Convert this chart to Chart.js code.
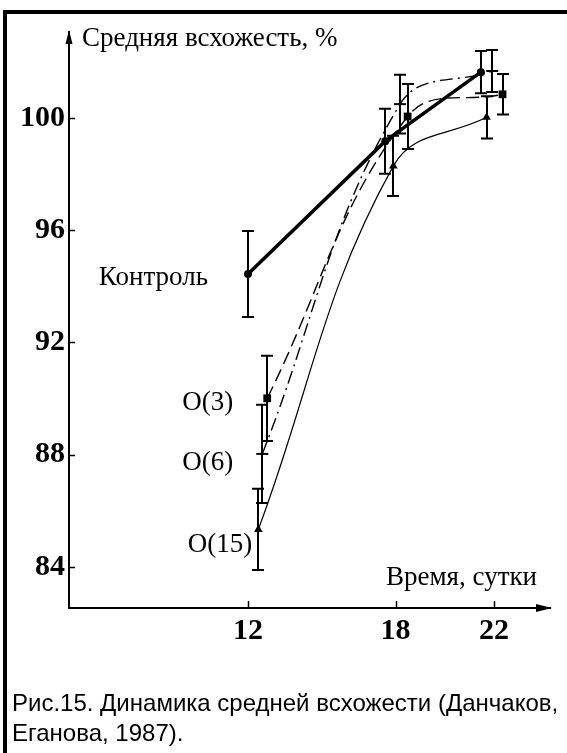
<!DOCTYPE html>
<html>
<head>
<meta charset="utf-8">
<script src="https://cdn.jsdelivr.net/npm/chart.js@4"></script>
<style>
  html, body { margin: 0; padding: 0; background: #fff; }
  #wrap { position: relative; width: 567px; height: 753px; overflow: hidden; background: #fff; }
  #frame { position: absolute; left: 3px; top: 10px; width: 600px; height: 800px;
           border-left: 4px solid #000; border-top: 4px solid #000; box-sizing: border-box; }
  canvas { position: absolute; left: 0; top: 0; }
  #caption { position: absolute; left: 12px; top: 688px; width: 620px;
             font-family: "Liberation Sans", Arial, sans-serif; font-size: 24px; line-height: 30px;
             color: #000; white-space: nowrap; }
</style>
</head>
<body>
<div id="wrap">
  <div id="frame"></div>
  <canvas id="c" width="567" height="753"></canvas>
  <div id="caption">Рис.15. Динамика средней всхожести (Данчаков,<br>Еганова, 1987).</div>
</div>
<script>
// ---- data ----
const xTicks = [12, 18, 22];
const yTicks = [84, 88, 92, 96, 100];
const yTitle = "Средняя всхожесть, %";
const xTitle = "Время, сутки";
const seriesNames = ["Контроль", "O(3)", "O(6)", "O(15)"];

// plotted day positions (points are slightly shifted around 12, 18, 22 in the figure)
const daysControl = [12.0, 17.58, 21.47];
const daysO3 = [12.78, 18.49, 22.35];
const daysO6 = [12.58, 18.18, 21.93];
const daysO15 = [12.42, 17.91, 21.70];

// mean germination, %
const valControl = [94.44, 99.17, 101.63];
const valO3 = [90.01, 100.05, 100.84];
const valO6 = [88.03, 100.49, 101.67];
const valO15 = [85.34, 98.29, 100.02];

// error bar half-widths, %
const errControl = [1.53, 1.16, 0.75];
const errO3 = [1.52, 1.16, 0.72];
const errO6 = [1.75, 1.05, 0.75];
const errO15 = [1.45, 1.07, 0.75];

function pts(xs, ys) { return xs.map((x, i) => ({ x: x, y: ys[i] })); }

const errs = [errControl, errO3, errO6, errO15];

const errorBarPlugin = {
  id: 'errbars',
  afterDatasetsDraw(chart) {
    const ctx = chart.ctx, xs = chart.scales.x, ys = chart.scales.y;
    ctx.save();
    ctx.strokeStyle = '#000';
    ctx.lineWidth = 2;
    chart.data.datasets.forEach((ds, di) => {
      ds.data.forEach((p, i) => {
        const e = errs[di][i];
        const px = Math.round(xs.getPixelForValue(p.x));
        const y1 = ys.getPixelForValue(p.y + e);
        const y2 = ys.getPixelForValue(p.y - e);
        ctx.beginPath();
        ctx.moveTo(px, y1); ctx.lineTo(px, y2);
        ctx.moveTo(px - 6, y1); ctx.lineTo(px + 6, y1);
        ctx.moveTo(px - 6, y2); ctx.lineTo(px + 6, y2);
        ctx.stroke();
      });
    });
    ctx.restore();
  }
};

const decorPlugin = {
  id: 'decor',
  afterDraw(chart) {
    const ctx = chart.ctx, xs = chart.scales.x, ys = chart.scales.y, a = chart.chartArea;
    ctx.save();
    ctx.fillStyle = '#000';
    ctx.strokeStyle = '#000';
    ctx.lineWidth = 1.5;
    // inward tick marks
    yTicks.forEach(v => {
      const py = Math.round(ys.getPixelForValue(v)) + 0.5;
      ctx.beginPath(); ctx.moveTo(a.left, py); ctx.lineTo(a.left + 6, py); ctx.stroke();
    });
    xTicks.forEach(v => {
      const px = Math.round(xs.getPixelForValue(v)) + 0.5;
      ctx.beginPath(); ctx.moveTo(px, a.bottom); ctx.lineTo(px, a.bottom - 7); ctx.stroke();
    });
    // arrows
    ctx.beginPath();
    ctx.moveTo(a.left, a.top - 2);
    ctx.lineTo(a.left - 3.5, a.top + 12);
    ctx.lineTo(a.left + 3.5, a.top + 12);
    ctx.closePath(); ctx.fill();
    ctx.beginPath();
    ctx.moveTo(a.right + 2, a.bottom);
    ctx.lineTo(a.right - 14, a.bottom - 4);
    ctx.lineTo(a.right - 14, a.bottom + 4);
    ctx.closePath(); ctx.fill();
    // axis titles
    ctx.font = '27px "Liberation Serif", "Times New Roman", serif';
    ctx.textBaseline = 'alphabetic';
    ctx.textAlign = 'left';
    ctx.fillText(yTitle, a.left + 13, a.top + 14);
    ctx.textAlign = 'right';
    ctx.fillText(xTitle, a.right - 13, a.bottom - 23);
    // series labels next to first point of each series
    const offs = [[-40, 4], [-34, 5], [-29, 9], [-6, 16]];
    chart.data.datasets.forEach((ds, di) => {
      const p = ds.data[0];
      const px = xs.getPixelForValue(p.x), py = ys.getPixelForValue(p.y);
      ctx.textAlign = 'right';
      ctx.textBaseline = 'middle';
      ctx.fillText(seriesNames[di], px + offs[di][0], py + offs[di][1]);
    });
    ctx.restore();
  }
};

new Chart(document.getElementById('c'), {
  type: 'line',
  data: {
    datasets: [
      { label: seriesNames[0], data: pts(daysControl, valControl), borderColor: '#000', backgroundColor: '#000',
        borderWidth: 3.5, tension: 0, pointStyle: 'circle', pointRadius: 4, pointBorderWidth: 0 },
      { label: seriesNames[1], data: pts(daysO3, valO3), borderColor: '#000', backgroundColor: '#000',
        borderWidth: 1.4, borderDash: [13, 6], tension: 0.4, pointStyle: 'rect', pointRadius: 5.5, pointBorderWidth: 0 },
      { label: seriesNames[2], data: pts(daysO6, valO6), borderColor: '#000', backgroundColor: '#000',
        borderWidth: 1.4, borderDash: [13, 5, 2, 5], tension: 0.4, pointStyle: 'line', pointRadius: 6, pointBorderWidth: 2 },
      { label: seriesNames[3], data: pts(daysO15, valO15), borderColor: '#000', backgroundColor: '#000',
        borderWidth: 1.2, tension: 0.4, pointStyle: 'triangle', pointRadius: 5, pointBorderWidth: 0 }
    ]
  },
  options: {
    responsive: false,
    animation: false,
    layout: { padding: { left: 0, top: 32, right: 17, bottom: 0 } },
    plugins: { legend: { display: false }, tooltip: { enabled: false }, title: { display: false } },
    scales: {
      x: {
        type: 'linear', min: 4.72, max: 24.28,
        afterBuildTicks: s => { s.ticks = xTicks.map(v => ({ value: v })); },
        afterFit: s => { s.height = 145; },
        grid: { display: false, drawTicks: false },
        border: { display: true, color: '#000', width: 2 },
        ticks: { color: '#000', padding: 5, font: { family: '"Liberation Serif", serif', size: 30, weight: 'bold' } }
      },
      y: {
        type: 'linear', min: 82.54, max: 103.06,
        afterBuildTicks: s => { s.ticks = yTicks.map(v => ({ value: v })); },
        afterFit: s => { s.width = 69; },
        grid: { display: false, drawTicks: false },
        border: { display: true, color: '#000', width: 2 },
        ticks: { color: '#000', padding: 4, font: { family: '"Liberation Serif", serif', size: 30, weight: 'bold' } }
      }
    }
  },
  plugins: [errorBarPlugin, decorPlugin]
});
</script>
</body>
</html>
